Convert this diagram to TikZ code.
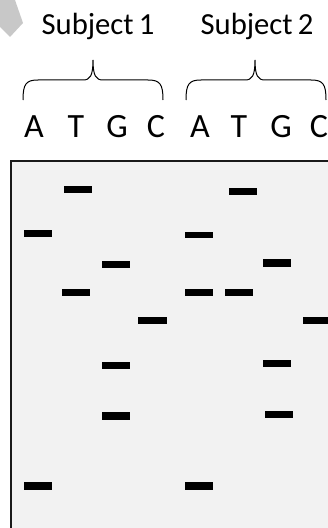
\documentclass[tikz,border=0pt]{standalone}
\usepackage{fontspec}
\setmainfont{Carlito}
\definecolor{gelfill}{HTML}{F2F2F2}
\definecolor{chev}{HTML}{C8C8C8}
\definecolor{frame}{HTML}{1A1A1A}
\begin{document}
\begin{tikzpicture}[x=0.75pt,y=-0.75pt,
  band/.style={fill=black},
  gelframe/.style={draw=frame,line width=1.5pt},
  bracepath/.style={draw=black,line width=0.75pt},
  subj/.style={anchor=base,inner sep=0pt,font=\fontsize{23}{27}\selectfont},
  lane/.style={anchor=base,inner sep=0pt,font=\fontsize{25.5}{30}\selectfont}]
\useasboundingbox (0,0) rectangle (328,528);
\clip (0,0) rectangle (328,528);
% chevron fragment
\fill[chev] (0,0) -- (15,0) -- (23,23) -- (10,37) -- (0,27) -- cycle;
% titles
\node[subj] (s1) at (98,35) {Subject\,1};
\node[subj] (s2) at (257,35) {Subject\,2};
% braces
\path[bracepath] (23,100) .. controls (23,84) and (26,80) .. (38,80) -- (83,80)
  .. controls (90,80) and (93,76) .. (93,60)
  .. controls (93,76) and (96,80) .. (103,80) -- (148,80)
  .. controls (160,80) and (163,84) .. (163,100);
\path[bracepath] (186,100) .. controls (186,84) and (189,80) .. (201,80) -- (245,80)
  .. controls (252,80) and (255,76) .. (255,60)
  .. controls (255,76) and (258,80) .. (265,80) -- (311,80)
  .. controls (323,80) and (326,84) .. (326,100);
% lane letters
\node[lane] (a1) at (34,137) {A};
\node[lane] (t1) at (76,137) {T};
\node[lane] (g1) at (117,137) {G};
\node[lane] (c1) at (156,137) {C};
\node[lane] (a2) at (200,137) {A};
\node[lane] (t2) at (239,137) {T};
\node[lane] (g2) at (281,137) {G};
\node[lane] (c2) at (319,137) {C};
% gel
\fill[gelfill] (11,161) rectangle (345,545);
\draw[gelframe] (11,545) -- (11,161) -- (345,161);
% bands subject 1
\foreach \xa/\ya/\xb/\yb in {64/186/92/193, 24/230/52/237, 102/261/130/268, 62/289/90/296,
  138/317/167/324, 102/362/130/369, 102/412/130/420, 24/482/52/490}
  \fill[band] (\xa,\ya) rectangle (\xb,\yb);
% bands subject 2
\foreach \xa/\ya/\xb/\yb in {229/188/257/195, 185/232/213/238, 263/259/291/267, 185/289/213/296,
  225/289/253/296, 303/317/331/324, 263/360/291/367, 265/411/293/418, 185/482/213/490}
  \fill[band] (\xa,\ya) rectangle (\xb,\yb);
\end{tikzpicture}
\end{document}
